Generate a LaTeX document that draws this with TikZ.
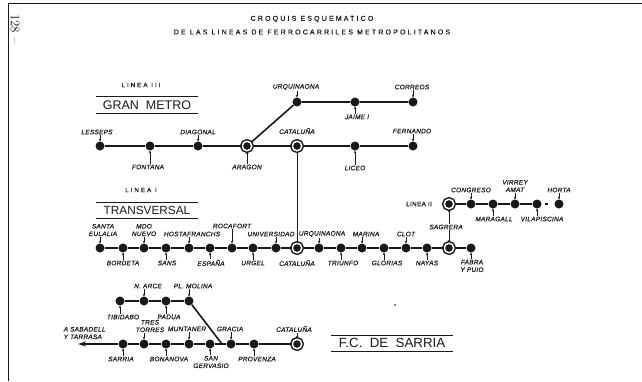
\documentclass[tikz,border=0pt]{standalone}
\usepackage{fontspec}
\newfontfamily\stnfont[LetterSpace=4,FakeBold=0.3]{Liberation Sans}
\newfontfamily\capfont[LetterSpace=31,FakeBold=0.3]{Liberation Sans}
\newfontfamily\headfont{Liberation Sans}
\usetikzlibrary{arrows.meta}
\definecolor{ink}{gray}{0.1}
\tikzset{>=latex,
  stn/.style={circle,fill=ink,inner sep=0,minimum size=9pt},
  hub/.style={circle,draw=ink,fill=ink,double=white,double distance=1.5pt,line width=1.5pt,inner sep=0,minimum size=9.5pt},
  lab/.style={font=\stnfont\itshape\fontsize{6.5}{7.5}\selectfont,text=ink,inner sep=0.5pt,align=center},
  captext/.style={font=\capfont\fontsize{7}{8}\selectfont,text=ink,inner sep=0},
  linename/.style={font=\capfont\fontsize{6.3}{7}\selectfont,text=ink,inner sep=0},
  headtext/.style={font=\headfont\fontsize{12.5}{14}\selectfont,text=ink,inner sep=0},
  track/.style={draw=ink,line width=1.6pt},
  tick/.style={draw=ink,line width=0.7pt,-{Stealth[length=2.5pt,width=2.5pt]}},
  rule/.style={draw=ink,line width=1pt}}

\begin{document}
\begin{tikzpicture}[x=1pt,y=-1pt]
\useasboundingbox (0,0) rectangle (642,381);
\fill[white] (0,0) rectangle (642,381);
\draw[ink,line width=1pt] (8,381)--(8,3.5)--(642,3.5);
\node[font=\fontsize{13}{14}\selectfont,text=ink,rotate=-90,inner sep=0] (page) at (15,29) {128 --};
\node[captext] (title1) at (312,19) {CROQUIS ESQUEMATICO};
\node[captext] (title2) at (312,32) {DE LAS LINEAS DE FERROCARRILES METROPOLITANOS};

% stations
\foreach \n/\x/\y in {lesseps/100/146,fontana/150/146,diagonal/198/146,liceo/355/146,fernando/413/146,
  urqm/297/102,jaime/355/102,correos/413/102,
  eulalia/100/248,bordeta/123/248,nuevo/144/248,sans/166/248,hosta/189/248,espana/210/248,rocafort/232/248,
  urgel/253/248,univ/276/248,urqt/319/248,triunfo/341/248,marina/362/248,glorias/384/248,clot/406/248,
  nayas/427/248,fabra/471/248,
  congreso/471/204,maragall/493/204,virrey/515/204,vila/537/204,horta/559/204,
  tibidabo/120/301,arce/144/301,padua/166/301,molina/189/301,
  sarria/123/344,torres/144/344,bonanova/166/344,muntaner/189/344,gervasio/210/344,gracia/231/344,provenza/254/344}
  \node[stn] (\n) at (\x,\y) {};
\foreach \n/\x/\y in {aragon/247/146,catm/297/146,catt/297/248,sagt/449/248,sagl/449/204,cats/297/344}
  \node[hub] (\n) at (\x,\y) {};
\coordinate (fork) at (222,344);
\coordinate (tarrasa) at (78,344);

% lines
\draw[track] (lesseps)--(fontana)--(diagonal)--(aragon)--(catm)--(liceo)--(fernando);
\draw[track] (aragon)--(urqm)--(jaime)--(correos);
\draw[draw=ink,line width=1pt] (catm)--(catt);
\draw[track] (eulalia)--(bordeta)--(nuevo)--(sans)--(hosta)--(espana)--(rocafort)--(urgel)--(univ)--(catt)
  --(urqt)--(triunfo)--(marina)--(glorias)--(clot)--(nayas)--(sagt)--(fabra);
\draw[track] (sagl)--(congreso)--(maragall)--(virrey)--(vila);
\draw[track,dash pattern=on 3pt off 20pt,dash phase=19.5pt] (vila)--(horta);
\draw[track] (tibidabo)--(arce)--(padua)--(molina);
\draw[track] (molina)--(fork);
\draw[track] (cats)--(provenza)--(gracia)--(gervasio)--(muntaner)--(bonanova)--(torres)--(sarria);
\draw[track,-{Stealth[length=8pt,width=5pt]}] (sarria)--(tarrasa);

% labels above the stations
\foreach \n/\x/\y/\t in {lesseps/97/132/LESSEPS,diagonal/198/132/DIAGONAL,urqm/296/87/URQUINAONA,correos/412/87/CORREOS,
  fernando/412/131/FERNANDO,
  eulalia/103/230/{SANTA\\EULALIA},nuevo/144/230/{MDO\\NUEVO},hosta/192/234/HOSTAFRANCHS,rocafort/232/226/ROCAFORT,
  univ/271/234/UNIVERSIDAD,urqt/322/234/URQUINAONA,marina/366/234/MARINA,clot/406/234/CLOT,
  congreso/471/190/CONGRESO,virrey/515/186/{VIRREY\\AMAT},horta/559/190/HORTA,
  arce/148/286/N. ARCE,molina/193/286/PL. MOLINA,torres/150/326/{TRES\\TORRES},muntaner/187/329/MUNTANER,
  gracia/230/329/GRACIA,cats/294/329/CATALUÑA}
  {\node[lab] (l\n) at (\x,\y) {\t};
   \draw[tick] (\n |- l\n.south)--(\n.north);}

% labels below the stations
\foreach \n/\x/\y/\t in {fontana/148/167/FONTANA,aragon/247/167/ARAGON,jaime/357/117/JAIME I,liceo/355/168/LICEO,
  bordeta/123/263/BORDETA,sans/167/263/SANS,espana/211/263/ESPAÑA,urgel/253/263/URGEL,triunfo/343/263/TRIUNFO,
  glorias/387/263/GLORIAS,nayas/427/263/NAYAS,fabra/472/266/{FABRA\\Y PUIO},
  maragall/494/219/MARAGALL,vila/542/219/VILAPISCINA,
  tibidabo/123/317/TIBIDABO,padua/169/317/PADUA,
  sarria/121/359/SARRIA,bonanova/169/359/BONANOVA,gervasio/211/362/{SAN\\GERVASIO},provenza/257/359/PROVENZA}
  {\node[lab] (l\n) at (\x,\y) {\t};
   \draw[tick] (\n |- l\n.north)--(\n.south);}

% labels without a pointer
\node[lab] (lcatm) at (297,131) {CATALUÑA};
\node[lab] (lcatt) at (297,263) {CATALUÑA};
\node[lab,align=left,anchor=west] (lsabadell) at (63,333) {A SABADELL\\Y TARRASA};

\node[lab] (lsagrera) at (446,227) {SAGRERA};
\draw[tick] (sagl |- lsagrera.north)--(sagl.south);
\draw[tick] (sagt |- lsagrera.south)--(sagt.north);

% line names
\node[linename] (linea3) at (141,85) {LINEA III};
\node[headtext] (granmetro) at (147,105) {GRAN\ \ METRO};
\draw[rule] (96,96)--(198,96) (96,113)--(198,113);
\node[linename] (linea1) at (141,190) {LINEA I};
\node[headtext,font=\headfont\fontsize{11.8}{14}\selectfont] (transversal) at (147,210) {TRANSVERSAL};
\draw[rule] (96,202)--(198,202) (96,218)--(198,218);
\node[lab,font=\stnfont\fontsize{6.5}{7}\selectfont] (linea2) at (419,204) {LINEA II};
\node[headtext,font=\headfont\fontsize{13.3}{14}\selectfont] (fcsarria) at (392,343) {F.C.\ \ DE\ \ SARRIA};
\draw[rule] (331,335)--(453,335) (331,351)--(453,351);
\fill[ink] (395,305) circle (0.8);
\end{tikzpicture}
\end{document}
